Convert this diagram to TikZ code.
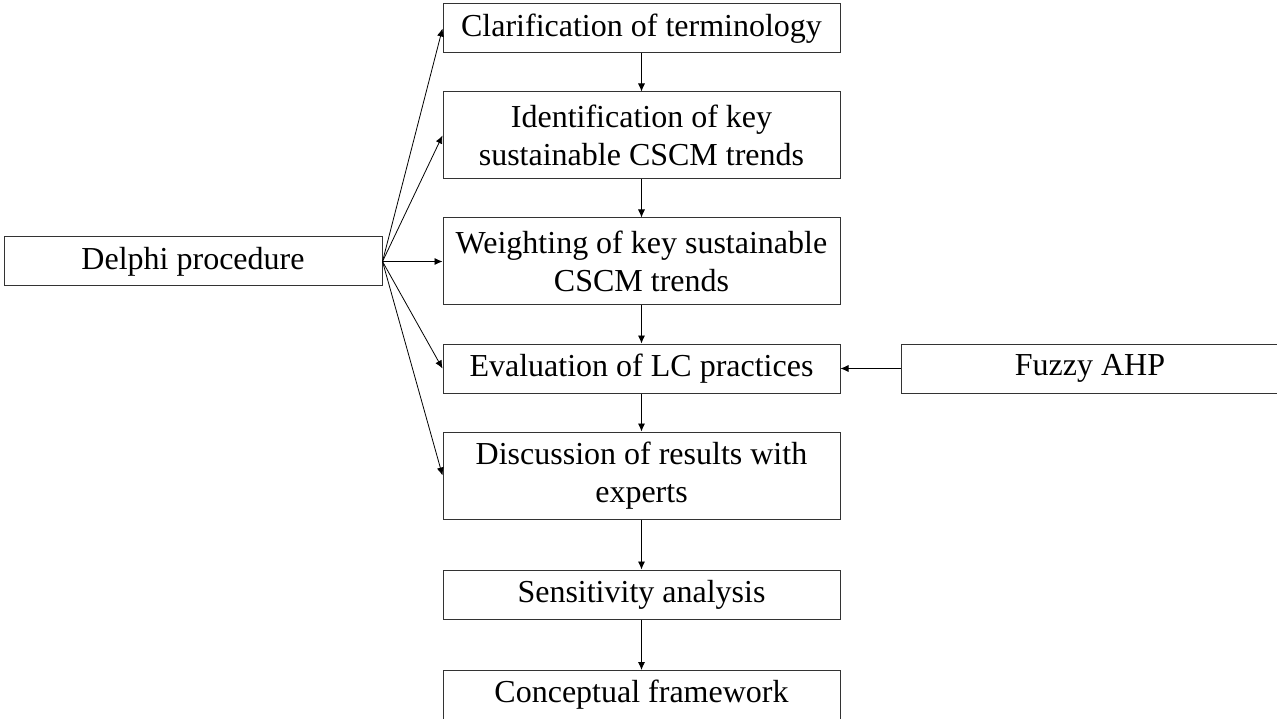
\documentclass[tikz,border=0pt]{standalone}
\usepackage{fontspec}
\setmainfont{Liberation Serif}
\usepackage{tikz}
\usetikzlibrary{arrows.meta,positioning}

\begin{document}
\begin{tikzpicture}[x=1pt,y=-1pt,
    stepbox/.style={draw=black!80,line width=1pt,minimum width=397pt,
      minimum height=49pt,inner sep=0pt,align=center,
      font=\fontsize{32}{38.5}\selectfont},
    tallbox/.style={stepbox,minimum height=87pt},
    flow/.style={-{Latex[length=8pt,width=7pt]},line width=0.8pt}]
  \clip (0,0) rectangle (1277,719);
  % Main column of steps
  \node[stepbox] (clar) at (641.5,28.5) {Clarification of terminology};
  \node[tallbox] (ident) at (641.5,135.5) {Identification of key\\sustainable CSCM trends};
  \node[tallbox] (weight) at (641.5,261.5) {Weighting of key sustainable\\CSCM trends};
  \node[stepbox] (eval) at (641.5,368.5) {Evaluation of LC practices};
  \node[tallbox] (disc) at (641.5,475.5) {Discussion of results with\\experts};
  \node[stepbox] (sens) at (641.5,594.5) {Sensitivity analysis};
  \node[stepbox] (concept) at (641.5,695) {Conceptual framework};
  % Methods on the sides
  \node[stepbox,minimum width=378pt] (delphi) at (193,261.5) {Delphi procedure};
  \node[stepbox,minimum width=378pt] (fuzzy) at (1090,368.5) {Fuzzy AHP};
  % Sequence arrows
  \foreach \a/\b in {clar/ident,ident/weight,weight/eval,eval/disc,disc/sens,sens/concept}{
    \draw[flow] (\a) -- (\b);
  }
  % Delphi fan-out
  \foreach \b in {clar,ident,weight,eval,disc}{
    \draw[flow] (delphi.east) -- (\b.west);
  }
  \draw[flow] (fuzzy) -- (eval);
\end{tikzpicture}
\end{document}
